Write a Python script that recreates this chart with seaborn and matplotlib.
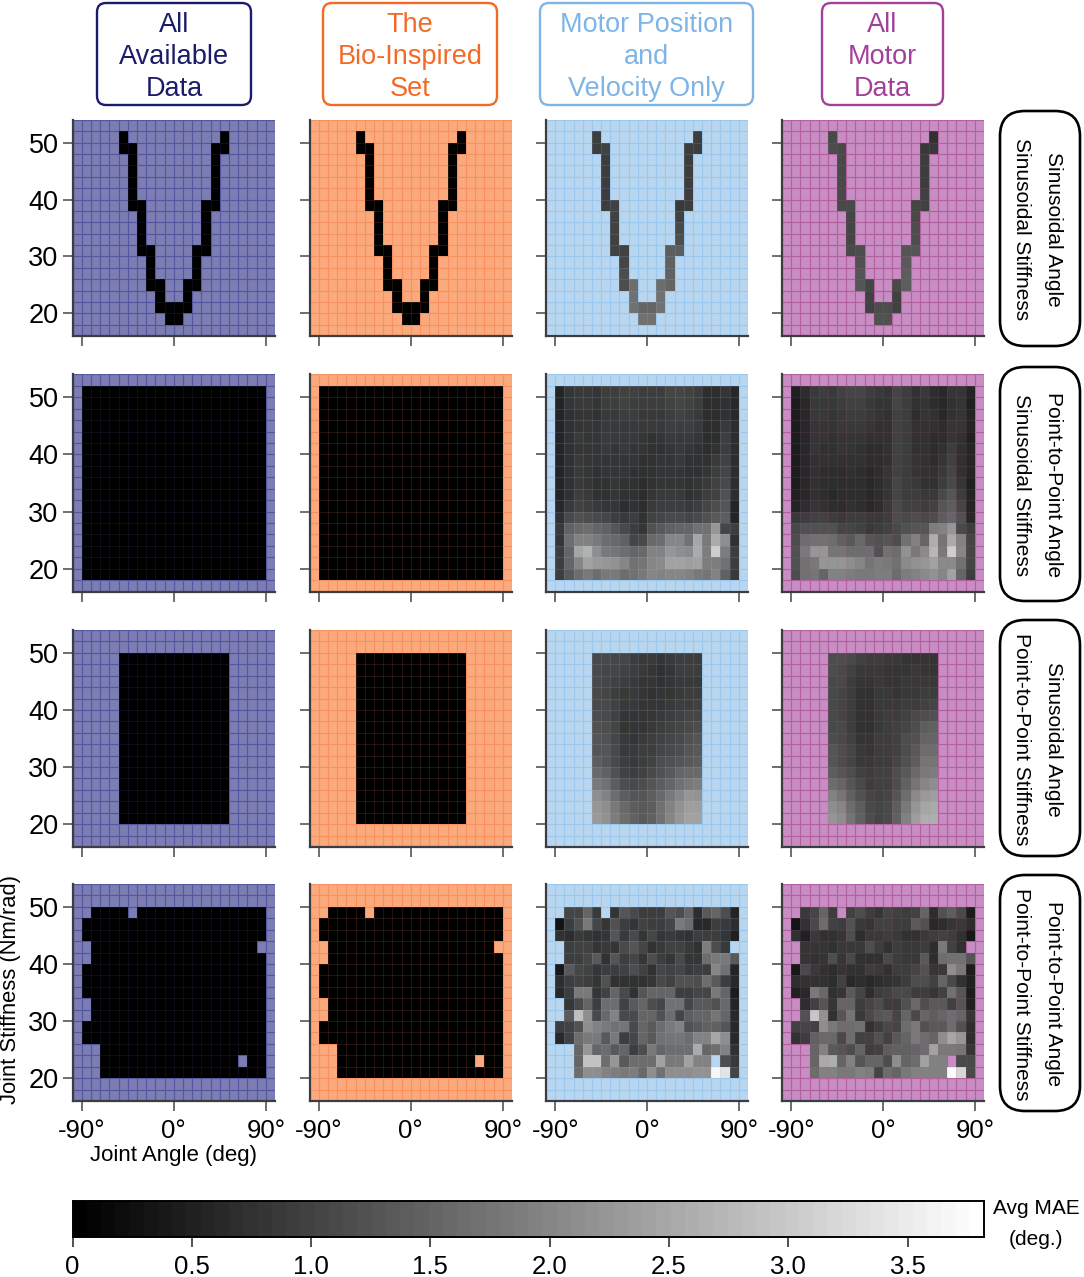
import numpy as np
import pandas as pd
import seaborn as sns
import matplotlib.pyplot as plt
from matplotlib.patches import FancyBboxPatch

W, H = 1084, 1277
N = np.nan

# grid of the sweep: cell centres
angles = [-94.5 + 9 * i for i in range(22)]
stiffness = [53 - 2 * i for i in range(19)]

angle_ticks = [-90, 0, 90]
angle_labels = ["-90°", "0°", "90°"]
stiffness_ticks = [50, 40, 30, 20]
cbar_ticks = [0, 0.5, 1.0, 1.5, 2.0, 2.5, 3.0, 3.5]
cbar_labels = ["0", "0.5", "1.0", "1.5", "2.0", "2.5", "3.0", "3.5"]
VMAX = 3.82

col_titles = ["All\nAvailable\nData", "The\nBio-Inspired\nSet",
              "Motor Position\nand\nVelocity Only", "All\nMotor\nData"]
row_titles = ["Sinusoidal Angle\nSinusoidal Stiffness",
              "Point-to-Point Angle\nSinusoidal Stiffness",
              "Sinusoidal Angle\nPoint-to-Point Stiffness",
              "Point-to-Point Angle\nPoint-to-Point Stiffness"]

fills = ["#7b7db3", "#fcaa7d", "#b8d6f0", "#c88dc3"]
grids = ["#5456a0", "#f59260", "#9cc8ee", "#b2609f"]
title_colors = ["#1b1b6b", "#f26a26", "#7fb5e6", "#a3409a"]

# all values below are grey levels, 0 black .. 255 white
black_levels = [3, 2]

# sinusoidal / sinusoidal: the V shaped path, (row, col)
v_cells = [(1, 5), (1, 16), (2, 5), (2, 6), (2, 15), (2, 16), (3, 6), (3, 15), (4, 6), (4, 15),
           (5, 6), (5, 15), (6, 6), (6, 15), (7, 6), (7, 7), (7, 14), (7, 15), (8, 7), (8, 14),
           (9, 7), (9, 14), (10, 7), (10, 14), (11, 7), (11, 8), (11, 13), (11, 14), (12, 8), (12, 13),
           (13, 8), (13, 13), (14, 8), (14, 9), (14, 12), (14, 13), (15, 9), (15, 12),
           (16, 9), (16, 10), (16, 11), (16, 12), (17, 10), (17, 11)]
v_motor_vel = [60, 62, 60, 64, 60, 62, 62, 62, 62, 60, 62, 60, 62, 60, 60, 64, 58, 60, 64, 66,
               66, 74, 66, 76, 64, 66, 92, 92, 70, 96, 76, 96, 76, 110, 110, 100, 112, 112,
               112, 100, 100, 112, 112, 112]
v_motor_all = [72, 50, 76, 74, 56, 56, 74, 60, 74, 62, 72, 62, 72, 64, 72, 72, 70, 66, 70, 72,
               70, 76, 70, 78, 72, 78, 84, 84, 82, 90, 84, 92, 86, 70, 72, 92, 66, 66,
               66, 78, 78, 66, 80, 80]

# point-to-point angle / sinusoidal stiffness: rows 1-17, cols 1-20
p2s_motor_vel = [
    [38, 52, 58, 58, 54, 62, 62, 66, 64, 62, 62, 62, 68, 70, 66, 62, 46, 44, 52, 42],
    [38, 52, 56, 56, 52, 60, 60, 64, 62, 60, 60, 60, 66, 70, 66, 60, 44, 44, 50, 42],
    [38, 50, 54, 54, 50, 58, 58, 60, 60, 58, 58, 58, 62, 66, 62, 58, 44, 44, 48, 42],
    [38, 50, 54, 54, 52, 58, 56, 58, 58, 56, 58, 56, 60, 62, 60, 56, 46, 46, 58, 44],
    [38, 50, 56, 54, 52, 58, 56, 56, 56, 54, 50, 52, 56, 58, 56, 52, 44, 46, 60, 44],
    [38, 50, 54, 54, 52, 56, 54, 56, 54, 52, 48, 50, 54, 56, 52, 50, 46, 50, 62, 44],
    [38, 50, 56, 54, 52, 54, 54, 54, 52, 50, 48, 52, 54, 56, 50, 48, 50, 56, 66, 44],
    [36, 50, 56, 54, 50, 52, 54, 52, 50, 48, 50, 54, 54, 54, 48, 50, 54, 62, 70, 44],
    [36, 50, 58, 54, 50, 50, 52, 50, 50, 46, 50, 54, 54, 54, 48, 52, 58, 64, 74, 44],
    [36, 50, 62, 56, 48, 50, 54, 50, 50, 46, 52, 56, 58, 58, 50, 54, 60, 66, 80, 46],
    [40, 56, 66, 60, 56, 54, 52, 46, 50, 46, 56, 60, 62, 62, 56, 62, 68, 76, 84, 38],
    [50, 72, 80, 78, 72, 70, 62, 58, 60, 48, 66, 70, 72, 74, 70, 72, 82, 88, 92, 38],
    [58, 96, 106, 108, 100, 96, 84, 74, 62, 54, 80, 88, 96, 100, 100, 112, 112, 150, 70, 60],
    [55, 110, 130, 130, 122, 110, 104, 96, 70, 74, 104, 110, 132, 132, 112, 165, 122, 170, 140, 50],
    [60, 100, 165, 178, 140, 120, 118, 110, 100, 105, 130, 130, 150, 140, 138, 170, 126, 205, 126, 62],
    [62, 100, 132, 160, 152, 148, 146, 132, 112, 118, 135, 136, 160, 160, 156, 160, 124, 124, 112, 62],
    [62, 90, 110, 120, 110, 122, 122, 108, 115, 120, 132, 130, 135, 135, 128, 120, 116, 130, 96, 56],
]
p2s_motor_all = [
    [32, 44, 58, 60, 58, 64, 68, 68, 60, 56, 52, 68, 62, 50, 56, 46, 42, 52, 54, 36],
    [30, 42, 56, 58, 56, 62, 66, 66, 58, 54, 52, 68, 60, 48, 54, 46, 40, 50, 52, 34],
    [28, 42, 56, 56, 54, 58, 60, 60, 56, 52, 50, 66, 60, 46, 52, 48, 42, 50, 52, 36],
    [28, 40, 54, 54, 52, 56, 58, 58, 54, 50, 50, 66, 60, 48, 50, 48, 44, 52, 52, 36],
    [30, 42, 52, 52, 50, 54, 54, 52, 48, 48, 50, 66, 60, 50, 50, 46, 46, 52, 50, 34],
    [30, 42, 52, 50, 50, 52, 52, 48, 44, 46, 50, 66, 60, 50, 50, 44, 50, 62, 50, 36],
    [30, 42, 50, 48, 48, 50, 50, 48, 44, 44, 50, 66, 60, 52, 50, 46, 54, 66, 50, 36],
    [30, 40, 50, 46, 44, 46, 48, 46, 42, 44, 52, 66, 60, 54, 50, 48, 58, 70, 50, 36],
    [30, 40, 50, 46, 44, 46, 46, 46, 42, 44, 52, 68, 60, 56, 50, 50, 62, 74, 52, 34],
    [32, 40, 50, 46, 42, 44, 46, 44, 40, 44, 54, 70, 62, 60, 56, 58, 74, 84, 60, 36],
    [36, 46, 52, 48, 46, 46, 48, 46, 42, 46, 58, 72, 66, 64, 60, 64, 84, 94, 68, 36],
    [56, 60, 66, 64, 60, 58, 60, 60, 56, 58, 62, 76, 74, 78, 74, 76, 92, 100, 80, 40],
    [72, 80, 82, 82, 80, 70, 70, 66, 58, 62, 66, 72, 82, 84, 86, 124, 128, 150, 72, 60],
    [78, 110, 115, 114, 110, 98, 88, 104, 84, 80, 84, 78, 112, 130, 100, 175, 118, 170, 128, 70],
    [82, 120, 150, 148, 118, 118, 108, 108, 108, 80, 115, 108, 145, 120, 136, 180, 120, 205, 132, 68],
    [80, 112, 122, 148, 150, 148, 142, 132, 118, 124, 122, 115, 136, 146, 148, 160, 138, 138, 112, 70],
    [78, 112, 116, 100, 130, 128, 126, 120, 122, 124, 124, 108, 125, 130, 136, 145, 135, 162, 100, 62],
]

# sinusoidal angle / point-to-point stiffness: rows 2-16, cols 5-16
s2p_motor_vel = [
    [72, 72, 70, 68, 62, 58, 56, 52, 58, 62, 62, 60],
    [72, 70, 68, 66, 60, 56, 54, 50, 52, 60, 60, 60],
    [72, 68, 66, 60, 58, 54, 52, 50, 52, 56, 58, 58],
    [72, 68, 62, 58, 56, 54, 50, 52, 54, 58, 60, 60],
    [74, 72, 64, 56, 56, 54, 52, 54, 58, 60, 62, 64],
    [76, 72, 66, 54, 52, 54, 54, 58, 60, 64, 68, 70],
    [80, 76, 68, 54, 54, 54, 56, 60, 64, 68, 72, 76],
    [84, 80, 70, 56, 52, 56, 60, 64, 70, 74, 80, 84],
    [86, 84, 72, 58, 56, 60, 62, 70, 74, 78, 86, 88],
    [92, 86, 74, 60, 58, 62, 66, 76, 80, 84, 90, 92],
    [104, 96, 80, 66, 62, 66, 72, 80, 88, 100, 104, 106],
    [120, 112, 92, 78, 72, 76, 84, 92, 100, 112, 122, 124],
    [140, 130, 108, 92, 84, 84, 92, 104, 120, 132, 148, 146],
    [150, 142, 120, 104, 92, 88, 94, 112, 128, 146, 158, 158],
    [155, 146, 126, 108, 96, 90, 96, 114, 132, 148, 162, 162],
]
s2p_motor_all = [
    [78, 76, 72, 66, 62, 60, 58, 56, 52, 54, 52, 52],
    [76, 74, 66, 58, 56, 56, 54, 54, 52, 56, 54, 52],
    [74, 72, 62, 52, 52, 56, 54, 52, 56, 56, 56, 56],
    [72, 70, 60, 50, 50, 58, 56, 54, 58, 58, 60, 60],
    [72, 70, 60, 50, 48, 58, 58, 58, 60, 62, 66, 68],
    [72, 70, 60, 50, 48, 58, 60, 62, 64, 72, 76, 80],
    [74, 72, 62, 50, 50, 58, 62, 64, 70, 78, 92, 96],
    [78, 74, 64, 54, 54, 60, 62, 64, 76, 82, 100, 100],
    [84, 76, 68, 58, 54, 60, 60, 66, 76, 88, 108, 110],
    [84, 78, 70, 58, 58, 62, 62, 70, 82, 92, 116, 116],
    [92, 86, 76, 66, 62, 64, 64, 76, 88, 104, 120, 126],
    [108, 100, 84, 72, 62, 64, 66, 78, 96, 118, 134, 142],
    [128, 118, 96, 80, 68, 66, 68, 86, 110, 136, 152, 156],
    [142, 132, 108, 92, 74, 68, 72, 94, 120, 148, 164, 168],
    [150, 142, 116, 98, 78, 70, 74, 98, 130, 156, 172, 174],
]

# point-to-point / point-to-point: rows 2-16, cols 1-20, N = no sample
p2p_motor_vel = [
    [N, 68, 68, 100, 58, N, 52, 84, 72, 62, 62, 62, 84, 78, 100, 44, 88, 100, 76, 38],
    [20, 60, 80, 120, 68, 52, 80, 62, 54, 66, 62, 62, 68, 120, 110, 42, 40, 60, 58, 44],
    [50, 46, 58, 52, 48, 52, 84, 56, 72, 52, 70, 52, 58, 52, 50, 60, 62, 62, 52, 34],
    [N, 62, 64, 66, 52, 58, 52, 72, 84, 68, 48, 58, 64, 64, 56, 50, 125, 76, 56, N],
    [N, 62, 62, 70, 90, 48, 84, 62, 68, 52, 78, 60, 52, 74, 52, 54, 110, 122, 122, 90],
    [24, 90, 68, 66, 54, 62, 60, 66, 78, 64, 50, 68, 66, 68, 58, 62, 62, 135, 115, 36],
    [44, 60, 64, 62, 52, 80, 50, 50, 50, 48, 52, 72, 66, 80, 80, 78, 110, 90, 60, 42],
    [40, 60, 120, 120, 54, 64, 100, 74, 50, 84, 100, 100, 100, 60, 60, 70, 70, 120, 100, 30],
    [N, 52, 72, 100, 60, 110, 110, 64, 90, 100, 76, 70, 112, 112, 68, 88, 88, 80, 104, 36],
    [N, 90, 190, 140, 74, 104, 130, 72, 74, 100, 100, 80, 110, 70, 92, 100, 100, 118, 100, 42],
    [62, 66, 80, 140, 130, 120, 112, 116, 72, 100, 90, 110, 120, 130, 80, 90, 96, 96, 84, 42],
    [40, 66, 110, 120, 120, 90, 120, 60, 70, 100, 90, 112, 116, 116, 110, 130, 130, 165, 140, 40],
    [N, N, 100, 150, 100, 110, 90, 100, 60, 76, 120, 100, 110, 110, 110, 170, 100, 110, 130, 50],
    [N, N, 100, 195, 195, 110, 150, 90, 110, 110, 110, 160, 120, 120, 160, 130, 130, N, 78, 58],
    [N, N, 110, 140, 140, 130, 125, 120, 125, 105, 140, 115, 140, 140, 140, 145, 145, 245, 225, 70],
]
p2p_motor_all = [
    [N, 58, 70, 100, 60, N, 64, 76, 62, 55, 68, 66, 60, 64, 100, 44, 80, 92, 72, 30],
    [20, 50, 74, 110, 66, 62, 80, 58, 52, 66, 66, 60, 60, 90, 80, 42, 44, 54, 56, 46],
    [48, 34, 58, 50, 50, 54, 78, 46, 58, 58, 60, 58, 50, 48, 58, 62, 64, 62, 50, 26],
    [N, 52, 52, 52, 50, 56, 58, 58, 76, 60, 50, 60, 56, 56, 60, 44, 120, 66, 50, N],
    [N, 52, 50, 54, 76, 52, 74, 48, 50, 50, 72, 60, 56, 56, 90, 44, 110, 112, 112, 84],
    [24, 72, 58, 50, 46, 52, 50, 50, 62, 56, 48, 60, 62, 68, 80, 52, 56, 140, 120, 30],
    [46, 50, 50, 50, 46, 66, 42, 44, 42, 44, 50, 54, 60, 76, 76, 66, 100, 74, 50, 34],
    [34, 42, 120, 104, 50, 52, 90, 70, 44, 62, 66, 72, 72, 60, 60, 54, 66, 112, 84, 30],
    [N, 44, 66, 86, 52, 100, 100, 60, 70, 76, 62, 62, 80, 104, 78, 90, 90, 66, 84, 34],
    [N, 80, 196, 145, 50, 84, 118, 58, 72, 84, 90, 70, 100, 74, 100, 92, 100, 108, 100, 52],
    [66, 68, 64, 140, 120, 110, 110, 112, 50, 60, 75, 70, 110, 120, 80, 90, 90, 110, 80, 44],
    [48, 60, 96, 104, 104, 72, 108, 64, 64, 80, 64, 88, 100, 120, 110, 100, 140, 165, 150, 44],
    [N, N, 100, 130, 90, 84, 76, 100, 60, 66, 92, 96, 96, 100, 110, 160, 122, 122, 118, 54],
    [N, N, 100, 170, 175, 100, 130, 84, 100, 102, 78, 140, 100, 110, 160, 130, 130, N, 72, 72],
    [N, N, 110, 130, 130, 120, 120, 130, 125, 70, 110, 100, 120, 128, 130, 130, 130, 250, 215, 75],
]

panel_x = [(72.5, 275), (309.5, 512), (546, 748), (782, 984)]
panel_y = [(120, 336), (374.5, 591.5), (630, 847), (884, 1101)]
col_boxes = [(97, 251), (323, 497), (540, 753), (822, 943)]
row_boxes = [(111, 346), (367, 601), (620, 856), (875, 1111)]


def block_grid(block, top, left):
    # put a block of read values into the full sweep grid
    grid = np.full((len(stiffness), len(angles)), np.nan)
    block = np.array(block, dtype=float)
    grid[top:top + block.shape[0], left:left + block.shape[1]] = block
    return grid


def v_grid(vals):
    grid = np.full((len(stiffness), len(angles)), np.nan)
    for (r, c), v in zip(v_cells, vals):
        grid[r, c] = v
    return grid


def panel_frame(row, col):
    # col 0 and 1 hold the near zero models, with the same sampled cells
    if row == 0:
        motor = v_grid(v_motor_vel if col == 2 else v_motor_all)
    elif row == 1:
        motor = block_grid(p2s_motor_vel if col == 2 else p2s_motor_all, 1, 1)
    elif row == 2:
        motor = block_grid(s2p_motor_vel if col == 2 else s2p_motor_all, 2, 5)
    else:
        motor = block_grid(p2p_motor_vel if col == 2 else p2p_motor_all, 2, 1)
    if col < 2:
        motor = np.where(np.isnan(motor), np.nan, black_levels[col])
    return pd.DataFrame(motor / 255 * VMAX, index=stiffness, columns=angles)


def px_axes(fig, xr, yr):
    return fig.add_axes([xr[0] / W, 1 - yr[1] / H, (xr[1] - xr[0]) / W, (yr[1] - yr[0]) / H])


sns.set_theme(style="ticks")
plt.rcParams["font.family"] = ["Liberation Sans", "DejaVu Sans"]

fig = plt.figure(figsize=(W / 100, H / 100), dpi=100)
cmap = plt.get_cmap("gray", 64)
cax = px_axes(fig, (72.5, 984), (1201, 1237))

for row in range(4):
    for col in range(4):
        ax = px_axes(fig, panel_x[col], panel_y[row])
        ax.set_facecolor(fills[col])
        df = panel_frame(row, col)
        last = row == 3 and col == 3
        # full colour grid under the mesh, faint one over it
        ax.vlines(range(23), 0, 19, color=grids[col], lw=0.8, zorder=0.5)
        ax.hlines(range(20), 0, 22, color=grids[col], lw=0.8, zorder=0.5)
        sns.heatmap(df, vmin=0, vmax=VMAX, cmap=cmap, ax=ax, xticklabels=False, yticklabels=False,
                    cbar=last, cbar_ax=cax if last else None,
                    cbar_kws={"orientation": "horizontal", "ticks": cbar_ticks} if last else None)
        ax.collections[-1].set_zorder(1)
        ax.vlines(range(23), 0, 19, color=grids[col], lw=0.8, alpha=0.14, zorder=2)
        ax.hlines(range(20), 0, 22, color=grids[col], lw=0.8, alpha=0.14, zorder=2)

        ax.set_xticks([(a + 99) / 9 for a in angle_ticks])
        ax.set_yticks([(54 - s) / 2 for s in stiffness_ticks])
        ax.set_xticklabels(angle_labels if row == 3 else [], rotation=0)
        ax.set_yticklabels(stiffness_ticks if col == 0 else [], rotation=0)
        ax.tick_params(length=7, width=1.2, color="#555555", labelsize=19.5, pad=3, labelcolor="black")
        ax.tick_params(axis="x", labelsize=18.5, pad=6)
        sns.despine(ax=ax)
        for side in ["left", "bottom"]:
            ax.spines[side].set_visible(True)
            ax.spines[side].set_color("#3c3c44")
            ax.spines[side].set_linewidth(1.6)
        ax.set_xlabel("")
        ax.set_ylabel("")

cax.set_xticklabels(cbar_labels)
cax.tick_params(length=7, width=1.2, color="#333333", labelsize=18.5, pad=6, labelcolor="black")
for spine in cax.spines.values():
    spine.set_visible(True)
    spine.set_color("black")
    spine.set_linewidth(1.2)

# pixel space overlay for the boxes and free text
over = fig.add_axes([0, 0, 1, 1], zorder=5)
over.set_xlim(0, W)
over.set_ylim(H, 0)
over.axis("off")

for (x0, x1), title, color in zip(col_boxes, col_titles, title_colors):
    over.add_patch(FancyBboxPatch((x0 + 8, 11), x1 - x0 - 16, 86, boxstyle="round,pad=8,rounding_size=9",
                                  fc="white", ec=color, lw=1.7))
    over.text((x0 + x1) / 2, 57, title, color=color, fontsize=19.5, ha="center", va="center",
              linespacing=1.31)

for (y0, y1), title in zip(row_boxes, row_titles):
    over.add_patch(FancyBboxPatch((1026, y0 + 26), 28, y1 - y0 - 52, boxstyle="round,pad=26,rounding_size=25",
                                  fc="white", ec="black", lw=1.9))
    over.text(1037.5, (y0 + y1) / 2 + 1, title, color="black", fontsize=15, rotation=-90, ha="center", va="center",
              linespacing=1.83, multialignment="center")

over.text(173, 1155, "Joint Angle (deg)", fontsize=16, ha="center", va="center", color="black")
over.text(11, 989, "Joint Stiffness (Nm/rad)", fontsize=15.8, rotation=90, ha="center", va="center", color="black")
over.text(1036, 1224, "Avg MAE\n(deg.)", fontsize=15, ha="center", va="center", color="black", linespacing=1.85)

fig.savefig("out.png", dpi=100)
